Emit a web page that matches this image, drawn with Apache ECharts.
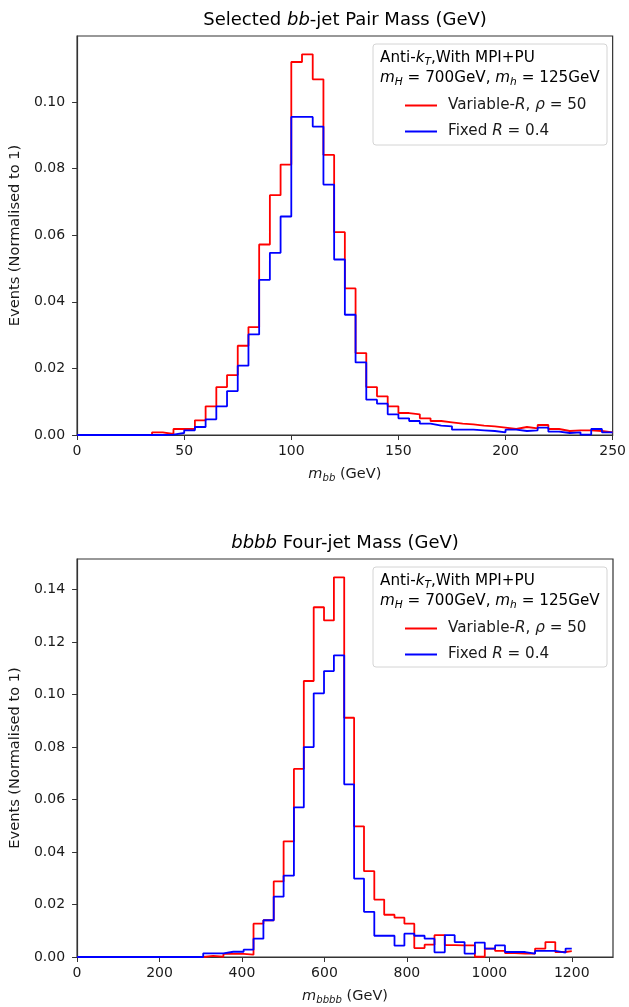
<!DOCTYPE html>
<html>
<head>
<meta charset="utf-8">
<script src="https://cdn.jsdelivr.net/npm/echarts@6/dist/echarts.min.js"></script>
<style>
  html, body { margin: 0; padding: 0; background: #fff; }
  #main { width: 629px; height: 1007px; }
</style>
</head>
<body>
<div id="main"></div>
<script>
// bin edges (GeV) and normalised counts

// top: m_bb, 5 GeV bins
var mbbEdges = [0, 5, 10, 15, 20, 25, 30, 35, 40, 45, 50, 55, 60, 65, 70, 75, 80, 85, 90, 95,
  100, 105, 110, 115, 120, 125, 130, 135, 140, 145, 150, 155, 160, 165, 170, 175, 180, 185, 190, 195,
  200, 205, 210, 215, 220, 225, 230, 235, 240, 245, 250];
var mbbVarR = [0, 0, 0, 0, 0, 0, 0, 0.0008, 0.0003, 0.0018,
  0.0018, 0.0044, 0.0086, 0.0144, 0.0180, 0.0268, 0.0324, 0.0572, 0.0720, 0.0812,
  0.1120, 0.1143, 0.1068, 0.0841, 0.0609, 0.0440, 0.0246, 0.0144, 0.0116, 0.0086,
  0.0066, 0.0062, 0.0050, 0.0042, 0.0038, 0.0034, 0.0032, 0.0028, 0.0026, 0.0022,
  0.0018, 0.0024, 0.0020, 0.0030, 0.0018, 0.0012, 0.0014, 0.0014, 0.0012, 0.0008];
var mbbFixed = [0, 0, 0, 0, 0, 0, 0, 0, 0.0001, 0.0006,
  0.0014, 0.0024, 0.0047, 0.0086, 0.0132, 0.0208, 0.0302, 0.0466, 0.0547, 0.0656,
  0.0955, 0.0955, 0.0926, 0.0752, 0.0527, 0.0361, 0.0218, 0.0106, 0.0094, 0.0062,
  0.0050, 0.0042, 0.0034, 0.0028, 0.0026, 0.0016, 0.0016, 0.0014, 0.0012, 0.0008,
  0.0016, 0.0012, 0.0014, 0.0022, 0.0010, 0.0006, 0.0008, 0.0001, 0.0018, 0.0008];

// bottom: m_bbbb
var mbbbbEdges = [0, 306, 330, 355, 379, 404, 428, 452, 477, 501, 526,
  550, 574, 599, 623, 648, 672, 696, 721, 745, 770,
  794, 818, 843, 867, 892, 916, 940, 965, 989, 1014,
  1038, 1062, 1087, 1111, 1136, 1160, 1185, 1200];
var mbbbbVarR = [0, 0.0004, 0.0001, 0.0012, 0.0012, 0.0009, 0.0127, 0.0140, 0.0288, 0.0441,
  0.0717, 0.1052, 0.1333, 0.1283, 0.1447, 0.0912, 0.0498, 0.0327, 0.0219, 0.0161,
  0.0150, 0.0127, 0.0034, 0.0047, 0.0083, 0.0045, 0.0044, 0.0044, 0.0001, 0.0032,
  0.0023, 0.0015, 0.0013, 0.0013, 0.0032, 0.0057, 0.0019, 0.0022];
var mbbbbFixed = [0, 0.0014, 0.0014, 0.0020, 0.0020, 0.0028, 0.0070, 0.0140, 0.0230, 0.0310,
  0.0570, 0.0800, 0.1005, 0.1090, 0.1150, 0.0658, 0.0299, 0.0172, 0.0081, 0.0081,
  0.0043, 0.0089, 0.0081, 0.0070, 0.0018, 0.0083, 0.0057, 0.0013, 0.0055, 0.0032,
  0.0044, 0.0019, 0.0019, 0.0013, 0.0023, 0.0023, 0.0017, 0.0032];

var nameVarR = 'Variable-R, rho = 50';
var nameFixed = 'Fixed R = 0.4';

var chart = echarts.init(document.getElementById('main'));

var FONT = 'DejaVu Sans';
var INK = '#1a1a1a';

// rich styles for italics / subscripts at a given base size
function makeRich(size) {
  var lh = Math.round(size * 1.25);
  return {
    n: { fontFamily: FONT, fontSize: size, color: INK, lineHeight: lh },
    i: { fontFamily: FONT, fontSize: size, color: INK, fontStyle: 'italic', lineHeight: lh },
    s: { fontFamily: FONT, fontSize: size * 0.7, color: INK, fontStyle: 'italic',
         lineHeight: Math.round(size * 0.7), verticalAlign: 'bottom' }
  };
}
var richAxis = makeRich(14.5);
var richLeg = makeRich(15.2);
var richTitle = makeRich(18);

// histogram outline as step points: each bin starts at its left edge
function steps(edges, vals) {
  var pts = vals.map(function (v, i) { return [edges[i], v]; });
  pts.push([edges[edges.length - 1], vals[vals.length - 1]]);
  return pts;
}

function histSeries(name, color, idx, edges, vals) {
  return {
    name: name,
    type: 'line',
    step: 'end',
    xAxisIndex: idx,
    yAxisIndex: idx,
    showSymbol: false,
    symbol: 'none',
    lineStyle: { color: color, width: 1.8 },
    itemStyle: { color: color },
    data: steps(edges, vals)
  };
}

var gridL = 77, gridR = 16;
var grids = [
  { left: gridL, right: gridR, top: 36, height: 399 },
  { left: gridL, right: gridR, top: 559, height: 398 }
];

function xAx(idx, max, interval, nameRich, showMax) {
  return {
    type: 'value', gridIndex: idx, min: 0, max: max, interval: interval,
    name: nameRich, nameLocation: 'middle', nameGap: 30,
    nameTextStyle: { rich: richAxis },
    axisLine: { show: true, onZero: false, lineStyle: { color: '#333', width: 1.2 } },
    axisTick: { show: true, length: 5, lineStyle: { color: '#333' } },
    axisLabel: {
      showMaxLabel: showMax, margin: 9, fontFamily: FONT, fontSize: 14, color: INK,
      formatter: function (v) { return String(v); }
    },
    splitLine: { show: false }
  };
}
function yAx(idx, max) {
  return {
    type: 'value', gridIndex: idx, min: 0, max: max, interval: 0.02,
    name: 'Events (Normalised to 1)', nameLocation: 'middle', nameGap: 50,
    nameTextStyle: { fontFamily: FONT, fontSize: 14.6, color: INK },
    axisLine: { show: true, lineStyle: { color: '#333', width: 1.2 } },
    axisTick: { show: true, length: 5, lineStyle: { color: '#333' } },
    axisLabel: {
      showMaxLabel: false, margin: 12, fontFamily: FONT, fontSize: 14, color: INK,
      formatter: function (v) { return v.toFixed(2); }
    },
    splitLine: { show: false }
  };
}

function legendFmt(name) {
  if (name === nameVarR) return '{n|Variable-}{i|R}{n|, }{i|\u03c1}{n| = 50}';
  return '{n|Fixed }{i|R}{n| = 0.4}';
}
function legendAt(top) {
  return {
    orient: 'vertical', left: 400, top: top, itemGap: 11, z: 6,
    icon: 'rect', itemWidth: 32, itemHeight: 2,
    selectedMode: false,
    data: [nameVarR, nameFixed],
    formatter: legendFmt,
    textStyle: { rich: richLeg, padding: [0, 0, 0, 6] }
  };
}

function box(y, h) {
  return {
    type: 'rect', shape: { x: 373, y: y, width: 234, height: h, r: 3 },
    style: { fill: 'rgba(255,255,255,0.85)', stroke: '#d4d4d4', lineWidth: 1 }, z: 3
  };
}
function header(boxTop) {
  return [
    { type: 'text', x: 380, y: boxTop + 14, z: 6,
      style: { text: '{n|Anti-}{i|k}{s|T}{n|,With MPI+PU}', rich: richLeg, verticalAlign: 'middle' } },
    { type: 'text', x: 380, y: boxTop + 34, z: 6,
      style: { text: '{i|m}{s|H}{n| = 700GeV, }{i|m}{s|h}{n| = 125GeV}', rich: richLeg, verticalAlign: 'middle' } }
  ];
}
function title(y, txt) {
  return { type: 'text', x: 345, y: y, z: 6,
    style: { text: txt, rich: richTitle, align: 'center', verticalAlign: 'middle' } };
}

var option = {
  animation: false,
  backgroundColor: '#fff',
  grid: grids.map(function (g) {
    return Object.assign({ show: true, borderColor: '#333', borderWidth: 1.2, backgroundColor: 'transparent' }, g);
  }),
  xAxis: [
    xAx(0, 250, 50, '{i|m}{s|bb}{n| (GeV)}', true),
    xAx(1, 1300, 200, '{i|m}{s|bbbb}{n| (GeV)}', false)
  ],
  yAxis: [yAx(0, 0.1198), yAx(1, 0.1517)],
  legend: [legendAt(44 + 60 - 11), legendAt(567 + 60 - 11)],
  graphic: [
    title(20, '{n|Selected }{i|bb}{n|-jet Pair Mass (GeV)}'),
    title(543, '{i|bbbb}{n| Four-jet Mass (GeV)}'),
    box(44, 101), box(567, 100)
  ].concat(header(44), header(567)),
  series: [
    histSeries(nameVarR, '#ff0000', 0, mbbEdges, mbbVarR),
    histSeries(nameFixed, '#0000ff', 0, mbbEdges, mbbFixed),
    histSeries(nameVarR, '#ff0000', 1, mbbbbEdges, mbbbbVarR),
    histSeries(nameFixed, '#0000ff', 1, mbbbbEdges, mbbbbFixed)
  ]
};

chart.setOption(option);
</script>
</body>
</html>
